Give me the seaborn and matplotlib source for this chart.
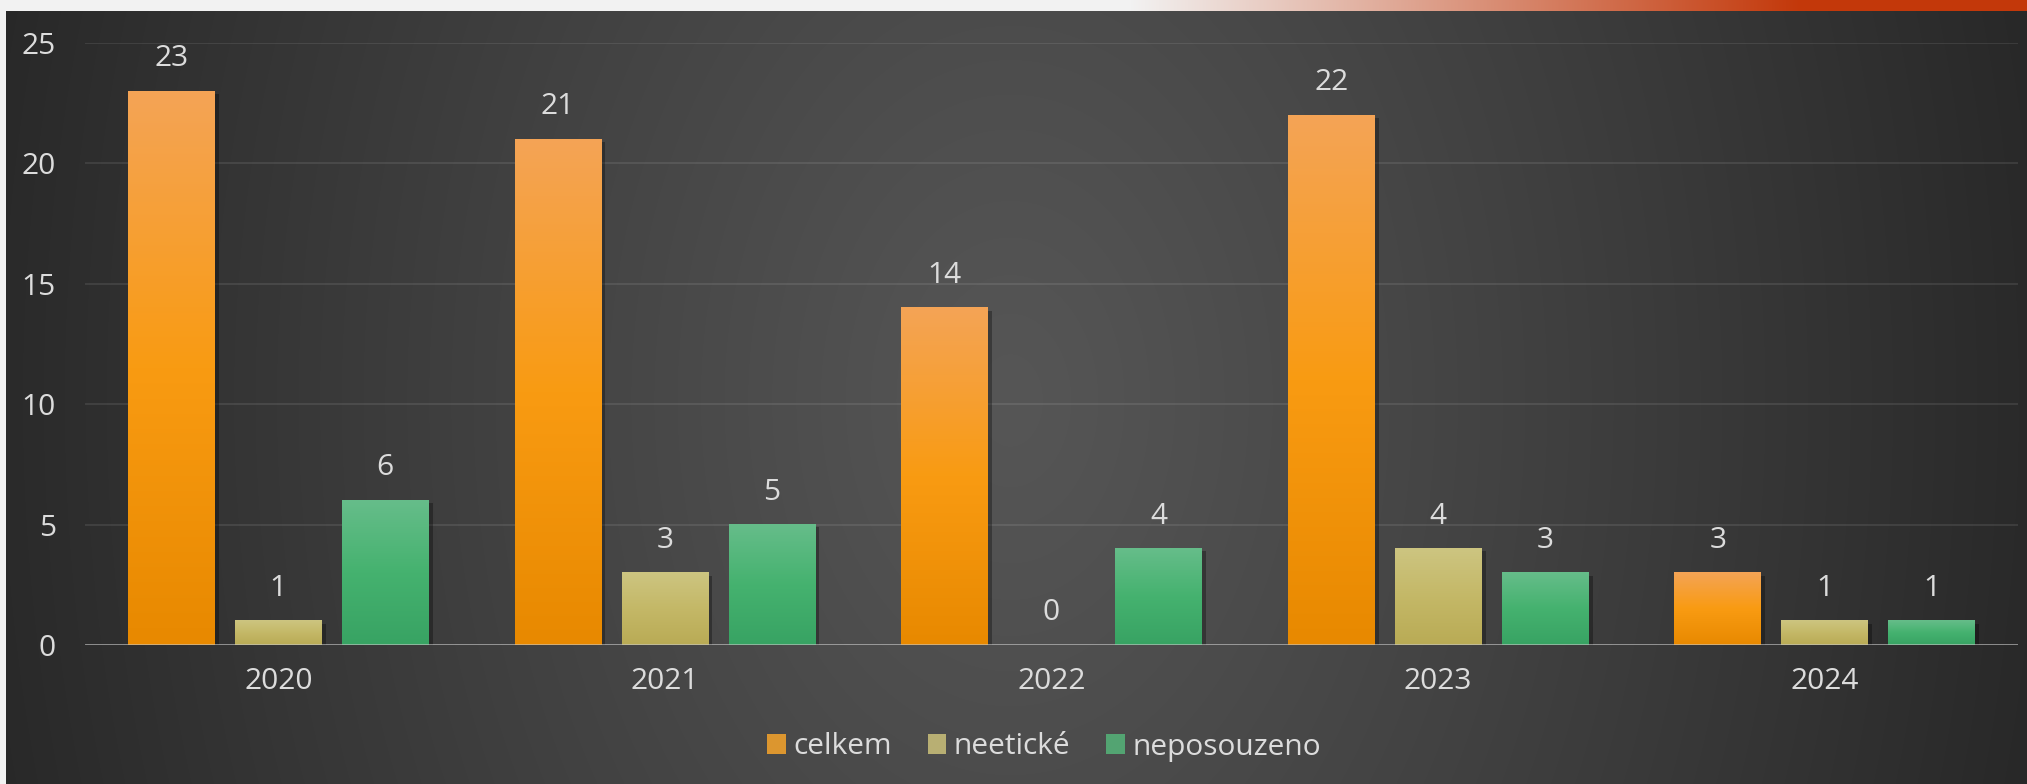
import numpy as np
import pandas as pd
import matplotlib.pyplot as plt
import matplotlib.patheffects as pe
from matplotlib.colors import LinearSegmentedColormap
import seaborn as sns

# -------------------------------
# DATA
# -------------------------------
years = ['2020', '2021', '2022', '2023', '2024']
celkem = [23, 21, 14, 22, 3]
neeticke = [1, 3, 0, 4, 1]
neposouzeno = [6, 5, 4, 3, 1]
series = ['celkem', 'neetické', 'neposouzeno']

df = pd.DataFrame({
    'rok': years * 3,
    'pocet': celkem + neeticke + neposouzeno,
    'typ': [s for s in series for _ in years],
})

# bottom / middle / top colour of each bar gradient
grad_colors = {
    'celkem': ['#e88900', '#f99b12', '#f4a456'],
    'neetické': ['#b9ab55', '#c4b867', '#cdc581'],
    'neposouzeno': ['#38a363', '#45b26f', '#66bd8a'],
}
palette = {k: v[1] for k, v in grad_colors.items()}

TEXT = '#dcdcdc'
W, H = 2027, 784

sns.set_theme(style='dark')
plt.rcParams['font.family'] = ['Open Sans', 'DejaVu Sans']

fig = plt.figure(figsize=(W / 100, H / 100), dpi=100)

# -------------------------------
# BACKGROUND (dark panel + top strip)
# -------------------------------
bg_ax = fig.add_axes([0, 0, 1, 1], zorder=-10)
yy, xx = np.mgrid[0:H, 0:W]
d = np.sqrt(((xx - 1010) / 1050.0) ** 2 + ((yy - 400) / 1500.0) ** 2)
v = 86 - 46 * np.clip(d, 0, 1) ** 1.1
img = np.dstack([v, v, v]) / 255.0
t = np.clip((np.arange(W) - 1130) / 670.0, 0, 1)[None, :, None]
light = np.array([242, 242, 242]) / 255.0
orange = np.array([195, 56, 10]) / 255.0
img[:11, :, :] = (1 - t) * light + t * orange
img[11:, :6, :] = light
bg_ax.imshow(img, extent=[0, W, H, 0], aspect='auto', interpolation='bilinear')
bg_ax.axis('off')

# -------------------------------
# BAR CHART
# -------------------------------
ax = fig.add_axes([85 / W, 139 / H, 1933 / W, 602 / H])
ax.set_facecolor('none')

sns.barplot(data=df, x='rok', y='pocet', hue='typ', palette=palette,
            width=0.83, gap=0.19, ax=ax, zorder=3, linewidth=0, edgecolor='none')

shadow = [pe.SimplePatchShadow(offset=(3, -2), shadow_rgbFace='black', alpha=0.3), pe.Normal()]
for cont, name in zip(ax.containers, series):
    cmap = LinearSegmentedColormap.from_list(name, [(0, grad_colors[name][0]),
                                                    (0.5, grad_colors[name][1]),
                                                    (1, grad_colors[name][2])])
    for bar in cont:
        bar.set_path_effects(shadow)
        h = bar.get_height()
        if h > 0:
            x0 = bar.get_x()
            ax.imshow(np.linspace(0, 1, 256).reshape(-1, 1), cmap=cmap, origin='lower',
                      extent=[x0, x0 + bar.get_width(), 0, h], aspect='auto', zorder=4)
    ax.bar_label(cont, fmt='%d', padding=13, color=TEXT, fontsize=21.5, zorder=6)

ax.set_xlim(-0.5, 4.5)
ax.set_ylim(0, 25)
ax.set_yticks(range(0, 26, 5))
ax.yaxis.grid(True, color='white', alpha=0.09, linewidth=1.5)
ax.xaxis.grid(False)
ax.axhline(0, color='#c8c8c8', alpha=0.75, linewidth=1.8, zorder=5)
for s in ax.spines.values():
    s.set_visible(False)
ax.tick_params(axis='y', length=0, pad=21, labelsize=21.5, labelcolor=TEXT)
ax.tick_params(axis='x', length=0, pad=16, labelsize=21.5, labelcolor=TEXT)
ax.set_xlabel('')
ax.set_ylabel('')

handles, labels = ax.get_legend_handles_labels()
ax.get_legend().remove()
ax.legend(handles, labels, loc='center', bbox_to_anchor=(1044 / W, 37 / H),
          bbox_transform=fig.transFigure, ncol=3, frameon=False,
          fontsize=21.5, labelcolor=TEXT, handlelength=0.62, handleheight=0.62,
          handletextpad=0.25, columnspacing=1.2)

fig.savefig('out.png', dpi=100)
